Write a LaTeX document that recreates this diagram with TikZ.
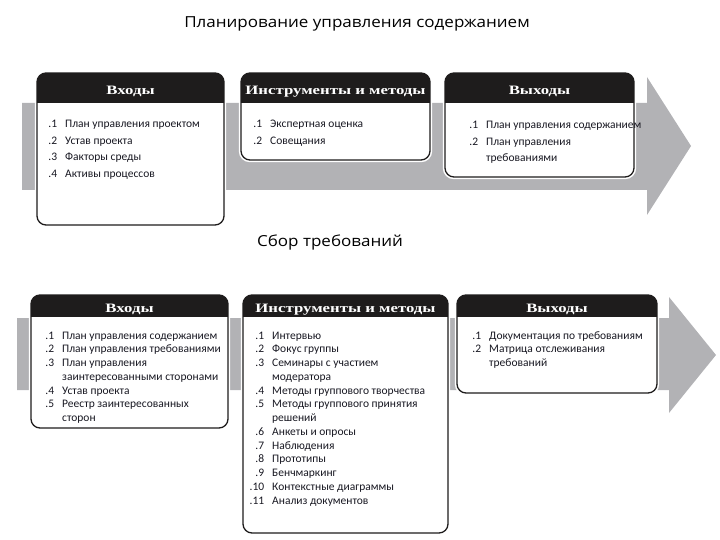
\documentclass[tikz,border=0pt]{standalone}
\usepackage{fontspec}
\newfontfamily\bodyf{Carlito}
\newfontfamily\titlef[FakeStretch=1.12]{Open Sans}
\newfontfamily\hdrf[FakeStretch=1.31]{Liberation Serif}
\definecolor{bandgray}{RGB}{178,178,181}
\definecolor{hdrblack}{RGB}{30,28,28}
\definecolor{txt}{RGB}{25,25,35}
\newcommand\nm[1]{\makebox[14pt][r]{#1}}
% name, x1, y1, x2, y2, header bottom, title baseline, title
\newcommand\pmbox[8]{%
  \fill[white, rounded corners=11pt] (#2-2.2,#3-2.2) rectangle (#4+2.2,#5+2.2);
  \begin{scope}
    \clip[rounded corners=9pt] (#2,#3) rectangle (#4,#5);
    \fill[hdrblack] (#2,#3) rectangle (#4,#6);
  \end{scope}
  \draw[boxline] (#2,#3) rectangle (#4,#5);
  \node[hdrtext] (#1) at ({(#2+#4)/2},#7) {#8};
}
\begin{document}
\begin{tikzpicture}[x=1pt,y=-1pt,
  boxline/.style={line width=1.3pt, draw=hdrblack, rounded corners=9pt},
  hdrtext/.style={text=white, font=\hdrf\bfseries\fontsize{12.8}{14}\selectfont, inner sep=0pt, anchor=base},
  toptext/.style={font=\bodyf\fontsize{11.5}{16.5}\selectfont, text=txt, inner sep=0pt, anchor=base west},
  bottext/.style={font=\bodyf\fontsize{11.5}{13.75}\selectfont, text=txt, inner sep=0pt, anchor=base west},
  ttl/.style={font=\titlef\fontsize{15.2}{17}\selectfont, text=black, inner sep=0pt, anchor=base},
  band/.style={fill=bandgray}]
\useasboundingbox (0,0) rectangle (720,540);

% ---------- top ----------
\node[ttl] (t1) at (357,27.7) {Планирование управления содержанием};
\fill[band] (22,103) -- (647,103) -- (647,77) -- (691,146) -- (647,215) -- (647,190) -- (22,190) -- cycle;

\pmbox{tinh}{37}{73}{224}{225}{103}{94.3}{Входы}
\pmbox{ttoh}{241}{73}{430}{160}{103}{94.3}{Инструменты и методы}
\pmbox{touh}{445}{73}{634}{177}{103}{94.3}{Выходы}

\node[toptext] (tin) at (43,128) {\begin{tabular}[t]{@{}l@{\hspace{8pt}}l@{}}
\nm{.1} & План управления проектом\\
\nm{.2} & Устав проекта\\
\nm{.3} & Факторы среды\\
\nm{.4} & Активы процессов
\end{tabular}};
\node[toptext] (tto) at (248,128) {\begin{tabular}[t]{@{}l@{\hspace{8pt}}l@{}}
\nm{.1} & Экспертная оценка\\
\nm{.2} & Совещания
\end{tabular}};
\node[toptext] (tou) at (464,129) {\begin{tabular}[t]{@{}l@{\hspace{8pt}}l@{}}
\nm{.1} & План управления содержанием\\
\nm{.2} & План управления\\
 & требованиями
\end{tabular}};

% ---------- bottom ----------
\node[ttl] (t2) at (330,247) {Сбор требований};
\fill[band] (17,318) -- (669,318) -- (669,297) -- (716,355) -- (669,413) -- (669,390) -- (17,390) -- cycle;

\pmbox{binh}{31}{295}{228}{428}{317}{312}{Входы}
\pmbox{btoh}{243}{295}{448}{533}{317}{312}{Инструменты и методы}
\pmbox{bouh}{457}{295}{657}{393}{317}{312}{Выходы}

\node[bottext] (bin) at (40,339) {\begin{tabular}[t]{@{}l@{\hspace{8pt}}l@{}}
\nm{.1} & План управления содержанием\\
\nm{.2} & План управления требованиями\\
\nm{.3} & План управления\\
 & заинтересованными сторонами\\
\nm{.4} & Устав проекта\\
\nm{.5} & Реестр заинтересованных\\
 & сторон
\end{tabular}};
\node[bottext] (bto) at (250,339) {\begin{tabular}[t]{@{}l@{\hspace{8pt}}l@{}}
\nm{.1} & Интервью\\
\nm{.2} & Фокус группы\\
\nm{.3} & Семинары с участием\\
 & модератора\\
\nm{.4} & Методы группового творчества\\
\nm{.5} & Методы группового принятия\\
 & решений\\
\nm{.6} & Анкеты и опросы\\
\nm{.7} & Наблюдения\\
\nm{.8} & Прототипы\\
\nm{.9} & Бенчмаркинг\\
\nm{.10} & Контекстные диаграммы\\
\nm{.11} & Анализ документов
\end{tabular}};
\node[bottext] (bou) at (467,339) {\begin{tabular}[t]{@{}l@{\hspace{8pt}}l@{}}
\nm{.1} & Документация по требованиям\\
\nm{.2} & Матрица отслеживания\\
 & требований
\end{tabular}};
\end{tikzpicture}
\end{document}
